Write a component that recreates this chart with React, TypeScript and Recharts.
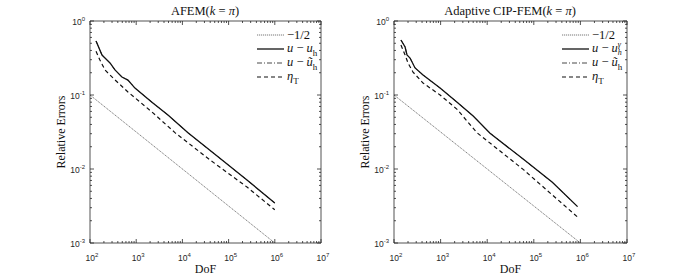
import React from "react";
import { Label, Legend, Line, LineChart, XAxis, YAxis } from "recharts";

// values (DoF, relative error)
const refSlope = [
  { dof: 100, err: 0.1 },
  { dof: 1e6, err: 0.001 },
];

const afemErr = [
  { dof: 135, err: 0.537 },
  { dof: 182, err: 0.347 },
  { dof: 211, err: 0.316 },
  { dof: 271, err: 0.271 },
  { dof: 347, err: 0.218 },
  { dof: 491, err: 0.175 },
  { dof: 663, err: 0.159 },
  { dof: 940, err: 0.124 },
  { dof: 2190, err: 0.08 },
  { dof: 4870, err: 0.0536 },
  { dof: 13200, err: 0.0308 },
  { dof: 60000, err: 0.0145 },
  { dof: 250000, err: 0.0071 },
  { dof: 1e6, err: 0.00347 },
];
const afemErrTilde = [
  { dof: 135, err: 0.537 },
  { dof: 182, err: 0.347 },
  { dof: 211, err: 0.316 },
  { dof: 271, err: 0.271 },
  { dof: 347, err: 0.218 },
  { dof: 491, err: 0.175 },
  { dof: 663, err: 0.159 },
  { dof: 940, err: 0.124 },
  { dof: 2190, err: 0.08 },
  { dof: 4870, err: 0.0536 },
  { dof: 13200, err: 0.0308 },
  { dof: 60000, err: 0.0145 },
  { dof: 250000, err: 0.0071 },
  { dof: 1e6, err: 0.00347 },
];
const afemEta = [
  { dof: 135, err: 0.39 },
  { dof: 164, err: 0.297 },
  { dof: 211, err: 0.218 },
  { dof: 347, err: 0.16 },
  { dof: 663, err: 0.11 },
  { dof: 2190, err: 0.059 },
  { dof: 6900, err: 0.031 },
  { dof: 40000, err: 0.0132 },
  { dof: 250000, err: 0.0057 },
  { dof: 1e6, err: 0.00281 },
];

const cipErr = [
  { dof: 141, err: 0.553 },
  { dof: 173, err: 0.445 },
  { dof: 190, err: 0.347 },
  { dof: 221, err: 0.316 },
  { dof: 283, err: 0.232 },
  { dof: 420, err: 0.186 },
  { dof: 975, err: 0.124 },
  { dof: 2260, err: 0.08 },
  { dof: 5000, err: 0.052 },
  { dof: 11500, err: 0.0305 },
  { dof: 60000, err: 0.0135 },
  { dof: 250000, err: 0.0066 },
  { dof: 870000, err: 0.0031 },
];
const cipErrTilde = [
  { dof: 141, err: 0.553 },
  { dof: 173, err: 0.445 },
  { dof: 190, err: 0.347 },
  { dof: 221, err: 0.316 },
  { dof: 283, err: 0.232 },
  { dof: 420, err: 0.186 },
  { dof: 975, err: 0.124 },
  { dof: 2260, err: 0.08 },
  { dof: 5000, err: 0.052 },
  { dof: 11500, err: 0.0305 },
  { dof: 60000, err: 0.0135 },
  { dof: 250000, err: 0.0066 },
  { dof: 870000, err: 0.0031 },
];
const cipEta = [
  { dof: 141, err: 0.474 },
  { dof: 173, err: 0.347 },
  { dof: 200, err: 0.271 },
  { dof: 256, err: 0.204 },
  { dof: 420, err: 0.145 },
  { dof: 975, err: 0.1 },
  { dof: 2260, err: 0.064 },
  { dof: 6000, err: 0.031 },
  { dof: 60000, err: 0.0098 },
  { dof: 870000, err: 0.00224 },
];

const xDecades = [1e2, 1e3, 1e4, 1e5, 1e6, 1e7];
const yDecades = [1e-3, 1e-2, 1e-1, 1];

const withMinor = (decades: number[]) => {
  const out: number[] = [];
  decades.forEach((d, i) => {
    out.push(d);
    if (i < decades.length - 1) for (let m = 2; m <= 9; m++) out.push(d * m);
  });
  return out;
};
const xTicks = withMinor(xDecades);
const yTicks = withMinor(yDecades);

const AXIS = "#262626";
const TICK_FONT = "'Liberation Sans', Arial, sans-serif";
const SERIF = "'Liberation Serif', 'DejaVu Serif', serif";

const isMajor = (v: number) => Math.abs(Math.log10(v) - Math.round(Math.log10(v))) < 1e-6;

function Pow({ x, y, v, anchor }: { x: number; y: number; v: number; anchor: string }) {
  return (
    <text x={x} y={y} textAnchor={anchor} fontFamily={TICK_FONT} fontSize={8.5} fill={AXIS}>
      10
      <tspan dy={-4} fontSize={6}>
        {Math.round(Math.log10(v))}
      </tspan>
    </text>
  );
}

function makeTick(side: "bottom" | "top" | "left" | "right", labels: boolean) {
  return (props: any) => {
    const { x, y, payload } = props;
    const v = payload.value;
    const len = isMajor(v) ? 4 : 2;
    if (side === "bottom")
      return (
        <g>
          <line x1={x} y1={y} x2={x} y2={y - len} stroke={AXIS} strokeWidth={0.8} />
          {labels && isMajor(v) && <Pow x={x + 2} y={y + 18} v={v} anchor="middle" />}
        </g>
      );
    if (side === "top")
      return <line x1={x} y1={y} x2={x} y2={y + len} stroke={AXIS} strokeWidth={0.8} />;
    if (side === "left")
      return (
        <g>
          <line x1={x} y1={y} x2={x + len} y2={y} stroke={AXIS} strokeWidth={0.8} />
          {labels && isMajor(v) && <Pow x={x - 5} y={y + 4} v={v} anchor="end" />}
        </g>
      );
    return <line x1={x} y1={y} x2={x - len} y2={y} stroke={AXIS} strokeWidth={0.8} />;
  };
}

const styles = {
  ref: { stroke: "#555", width: 0.8, dash: "1.2 0.8" },
  solid: { stroke: "#111", width: 1.3, dash: undefined },
  dashdot: { stroke: "#333", width: 0.9, dash: "5 2 1 2" },
  dashed: { stroke: "#111", width: 1.2, dash: "4 3" },
};

type Entry = { key: keyof typeof styles; label: React.ReactNode };

function LegendBox({ entries }: { entries: Entry[] }) {
  return (
    <div style={{ fontFamily: SERIF, fontSize: 12.5, color: "#111" }}>
      {entries.map((e) => {
        const s = styles[e.key];
        return (
          <div key={e.key} style={{ display: "flex", alignItems: "center", height: 14 }}>
            <svg width={27} height={14} style={{ marginRight: 3 }}>
              <line
                x1={0}
                y1={7}
                x2={27}
                y2={7}
                stroke={s.stroke}
                strokeWidth={s.width}
                strokeDasharray={s.dash}
              />
            </svg>
            <span style={{ whiteSpace: "nowrap" }}>{e.label}</span>
          </div>
        );
      })}
    </div>
  );
}

type PanelProps = {
  title: React.ReactNode;
  titleX: number;
  err: { dof: number; err: number }[];
  errTilde: { dof: number; err: number }[];
  eta: { dof: number; err: number }[];
  entries: Entry[];
  margin: { top: number; right: number; bottom: number; left: number };
  legendLeft: number;
};

function Panel({ title, titleX, err, errTilde, eta, entries, margin, legendLeft }: PanelProps) {
  return (
    <div style={{ position: "relative", width: 346, height: 277 }}>
      <div
        style={{
          position: "absolute",
          left: titleX - 120,
          width: 240,
          top: 3,
          textAlign: "center",
          fontFamily: SERIF,
          fontSize: 12.5,
          color: "#111",
          lineHeight: "16px",
        }}
      >
        {title}
      </div>
      <LineChart width={346} height={277} margin={margin}>
        <XAxis
          xAxisId="b"
          dataKey="dof"
          type="number"
          scale="log"
          domain={[100, 1e7]}
          allowDataOverflow
          ticks={xTicks}
          interval={0}
          tickSize={0}
          tickMargin={0}
          height={30}
          axisLine={{ stroke: AXIS, strokeWidth: 0.8 }}
          tickLine={false}
          tick={makeTick("bottom", true)}
        >
          <Label
            content={(p: any) => (
              <text
                x={p.viewBox.x + p.viewBox.width / 2}
                y={p.viewBox.y + 30}
                textAnchor="middle"
                fontFamily={SERIF}
                fontSize={12}
                fill="#111"
              >
                DoF
              </text>
            )}
          />
        </XAxis>
        <XAxis
          xAxisId="t"
          orientation="top"
          dataKey="dof"
          type="number"
          scale="log"
          domain={[100, 1e7]}
          allowDataOverflow
          ticks={xTicks}
          interval={0}
          tickSize={0}
          tickMargin={0}
          height={5}
          axisLine={{ stroke: AXIS, strokeWidth: 0.8 }}
          tickLine={false}
          tick={makeTick("top", false)}
        />
        <YAxis
          yAxisId="l"
          dataKey="err"
          type="number"
          scale="log"
          domain={[1e-3, 1]}
          allowDataOverflow
          ticks={yTicks}
          interval={0}
          tickSize={0}
          tickMargin={0}
          width={40}
          axisLine={{ stroke: AXIS, strokeWidth: 0.8 }}
          tickLine={false}
          tick={makeTick("left", true)}
        >
          <Label
            content={(p: any) => {
              const cx = p.viewBox.x + 11;
              const cy = p.viewBox.y + p.viewBox.height / 2;
              return (
                <text
                  x={cx}
                  y={cy}
                  transform={`rotate(-90, ${cx}, ${cy})`}
                  textAnchor="middle"
                  dominantBaseline="central"
                  fontFamily={SERIF}
                  fontSize={12}
                  fill="#111"
                >
                  Relative Errors
                </text>
              );
            }}
          />
        </YAxis>
        <YAxis
          yAxisId="r"
          orientation="right"
          dataKey="err"
          type="number"
          scale="log"
          domain={[1e-3, 1]}
          allowDataOverflow
          ticks={yTicks}
          interval={0}
          tickSize={0}
          tickMargin={0}
          width={5}
          axisLine={{ stroke: AXIS, strokeWidth: 0.8 }}
          tickLine={false}
          tick={makeTick("right", false)}
        />
        <Line
          xAxisId="b"
          yAxisId="l"
          data={refSlope}
          dataKey="err"
          stroke={styles.ref.stroke}
          strokeWidth={styles.ref.width}
          strokeDasharray={styles.ref.dash}
          dot={false}
          isAnimationActive={false}
        />
        <Line
          xAxisId="b"
          yAxisId="l"
          data={errTilde}
          dataKey="err"
          stroke={styles.dashdot.stroke}
          strokeWidth={styles.dashdot.width}
          strokeDasharray={styles.dashdot.dash}
          dot={false}
          isAnimationActive={false}
        />
        <Line
          xAxisId="b"
          yAxisId="l"
          data={err}
          dataKey="err"
          stroke={styles.solid.stroke}
          strokeWidth={styles.solid.width}
          dot={false}
          isAnimationActive={false}
        />
        <Line
          xAxisId="b"
          yAxisId="l"
          data={eta}
          dataKey="err"
          stroke={styles.dashed.stroke}
          strokeWidth={styles.dashed.width}
          strokeDasharray={styles.dashed.dash}
          dot={false}
          isAnimationActive={false}
        />
        <Legend
          layout="vertical"
          align="center"
          verticalAlign="middle"
          content={() => <LegendBox entries={entries} />}
          wrapperStyle={{ position: "absolute", left: legendLeft, top: 28, width: "auto", height: "auto" }}
        />
      </LineChart>
    </div>
  );
}

const sub = (s: string) => <sub style={{ fontSize: 9 }}>{s}</sub>;

export default function App() {
  const afemEntries: Entry[] = [
    { key: "ref", label: <span>−1/2</span> },
    { key: "solid", label: <span><i>u</i> − <i>u</i>{sub("h")}</span> },
    { key: "dashdot", label: <span><i>u</i> − <i>ũ</i>{sub("h")}</span> },
    { key: "dashed", label: <span><i>η</i>{sub("T")}</span> },
  ];
  const cipEntries: Entry[] = [
    { key: "ref", label: <span>−1/2</span> },
    {
      key: "solid",
      label: (
        <span>
          <i>u</i> − <i>u</i>
          <span style={{ display: "inline-flex", flexDirection: "column", fontSize: 8, lineHeight: "8px", verticalAlign: "middle", fontStyle: "italic" }}>
            <span>γ</span>
            <span>h</span>
          </span>
        </span>
      ),
    },
    { key: "dashdot", label: <span><i>u</i> − <i>ũ</i>{sub("h")}</span> },
    { key: "dashed", label: <span><i>η</i>{sub("T")}</span> },
  ];
  return (
    <div style={{ position: "absolute", left: 0, top: 0, width: 692, height: 277, display: "flex", background: "#fff" }}>
      <Panel
        title={<span>AFEM(<i>k</i> = <i>π</i>)</span>}
        titleX={205}
        err={afemErr}
        errTilde={afemErrTilde}
        eta={afemEta}
        entries={afemEntries}
        margin={{ top: 16, right: 20, bottom: 4, left: 50 }}
        legendLeft={257}
      />
      <Panel
        title={<span>Adaptive CIP-FEM(<i>k</i> = <i>π</i>)</span>}
        titleX={164}
        err={cipErr}
        errTilde={cipErrTilde}
        eta={cipEta}
        entries={cipEntries}
        margin={{ top: 16, right: 60, bottom: 4, left: 8 }}
        legendLeft={216}
      />
    </div>
  );
}
